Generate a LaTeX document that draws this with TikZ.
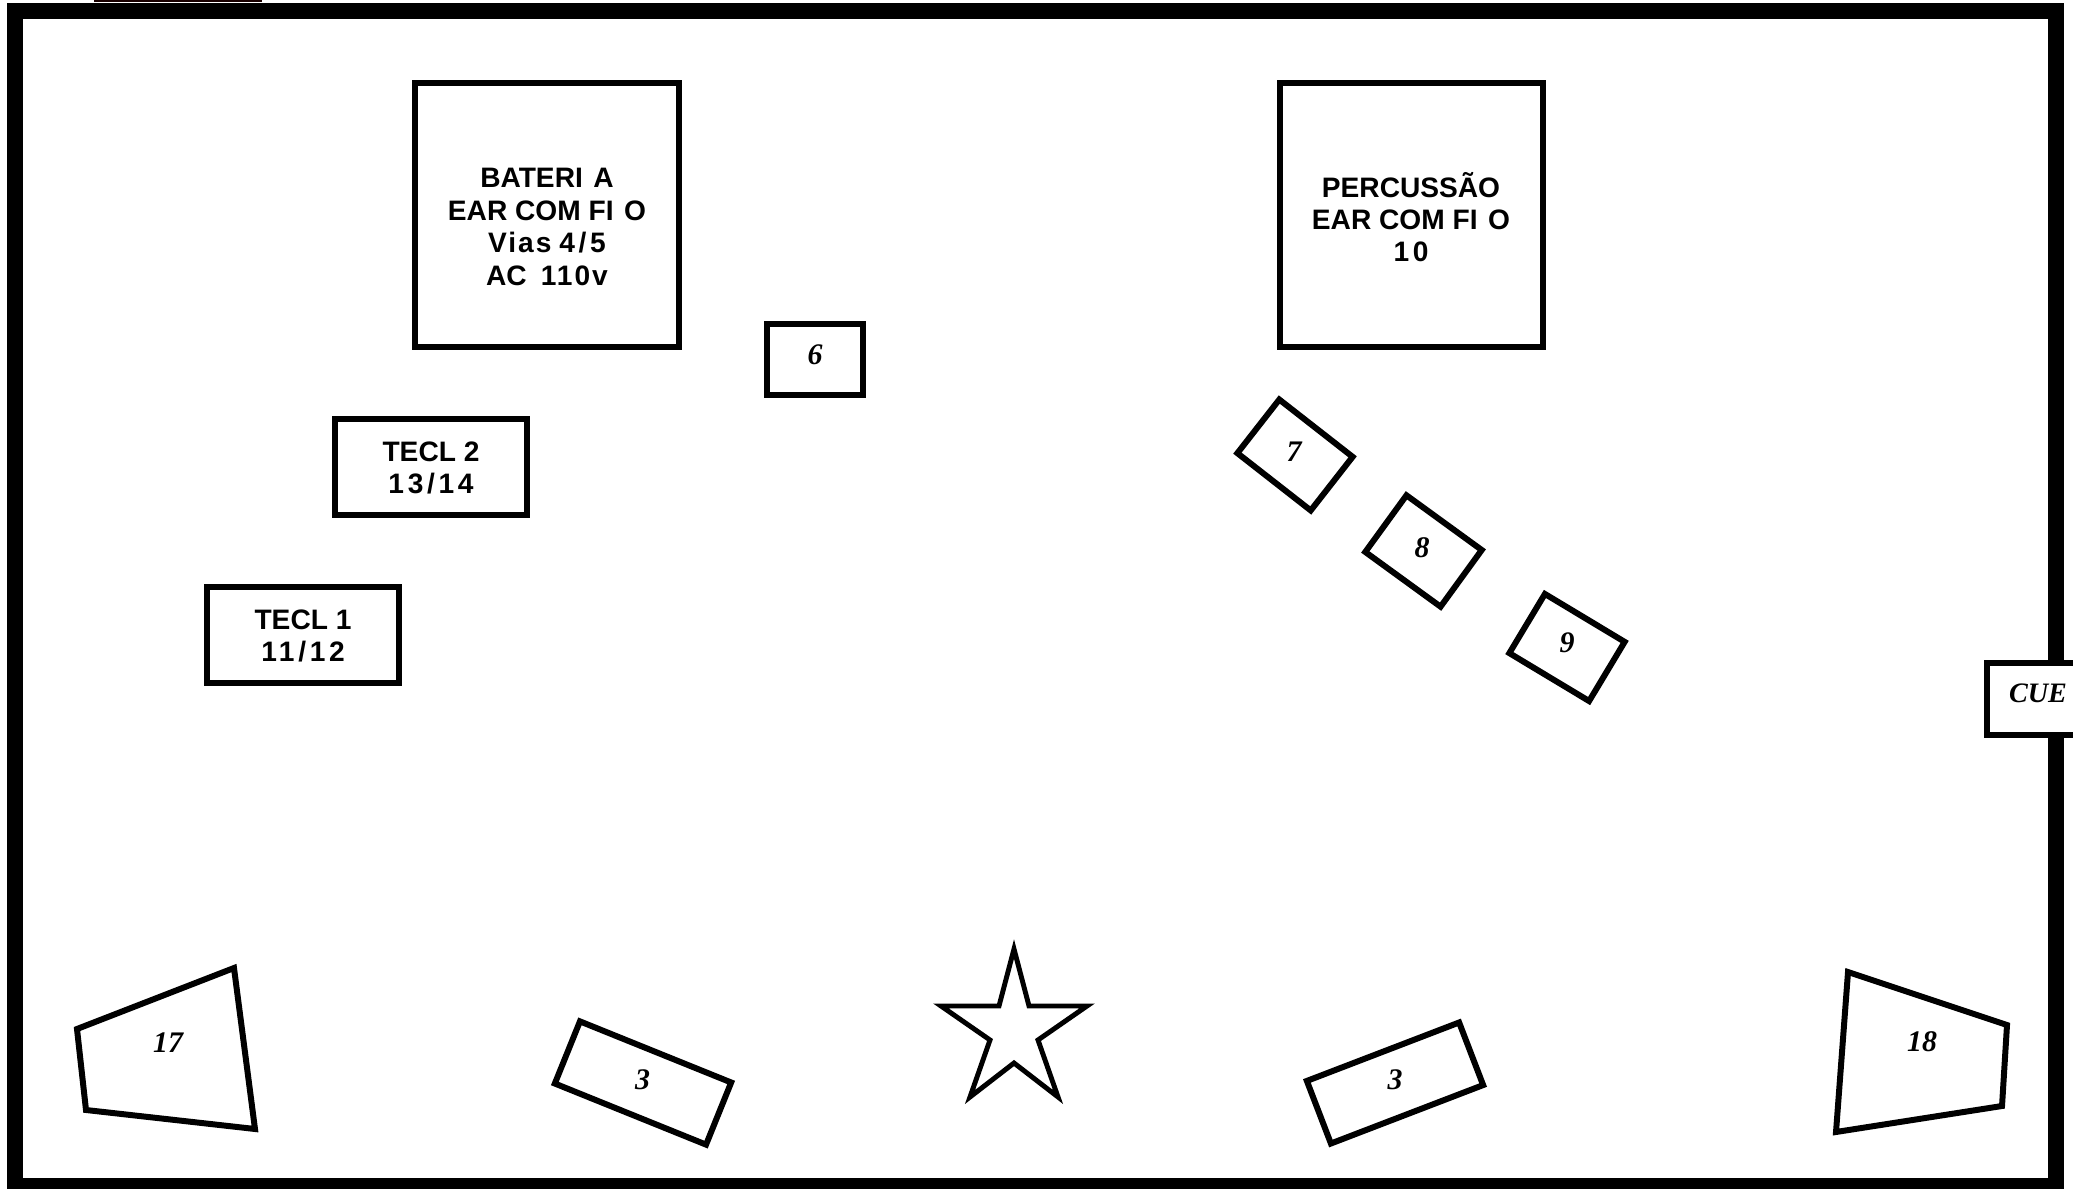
\documentclass[tikz,border=0pt]{standalone}
\usepackage{fontspec}
\setmainfont{Liberation Serif}
\newfontfamily\lsans{Liberation Sans}
\newfontfamily\lsansw[LetterSpace=13]{Liberation Sans}
\newfontfamily\lsansv[LetterSpace=7]{Liberation Sans}
\newcommand\dg[1]{{\lsansw\bfseries #1}}
\newcommand\lw[1]{{\lsansv\bfseries #1}}
\begin{document}
\begin{tikzpicture}[x=0.01cm, y=-0.01cm,
  box/.style={draw, line width=1.7pt, inner sep=0pt},
  poly/.style={draw, line width=1.7pt, line join=miter},
  lab/.style={font=\lsans\bfseries\fontsize{8}{9.2}\selectfont, align=center, inner sep=0pt},
  num/.style={font=\bfseries\itshape\fontsize{8.5}{10}\selectfont, inner sep=0pt}]
\useasboundingbox (0,0) rectangle (2073,1189);
\clip (0,0) rectangle (2073,1189);
% top fragment
\fill[black!90!red] (94,0) rectangle (262,2.5);
% stage border
\draw[line width=4.55pt] (15,11) rectangle (2055.5,1186);
% drums
\node[box, minimum width=2.64cm, minimum height=2.64cm] (bat) at (547,215) {};
\node[lab] (batl) at (547,227) {BATERI\kern3pt A\\EAR COM FI\kern3pt O\\\lw{Vias} \dg{4/5}\\AC\enspace\lw{110v}};
% percussion
\node[box, minimum width=2.63cm, minimum height=2.64cm] (perc) at (1411.5,215) {};
\node[lab] (percl) at (1411,217) {PERCUSSÃO\\EAR COM FI\kern3pt O\\\dg{10}};
% keyboards
\node[box, minimum width=1.92cm, minimum height=0.96cm] (t2) at (431,467) {};
\node[lab] (t2l) at (431,468) {TECL \dg{2}\\\dg{13/14}};
\node[box, minimum width=1.92cm, minimum height=0.96cm] (t1) at (303,635) {};
\node[lab] (t1l) at (303,636) {TECL \dg{1}\\\dg{11/12}};
% monitor 6
\node[box, minimum width=0.96cm, minimum height=0.71cm] (m6) at (815,359.5) {};
\node[num] (m6l) at (815,355) {6};
% monitors 7 8 9
\node[box, rotate=-38, minimum width=0.93cm, minimum height=0.68cm] (m7) at (1295,455) {};
\node[num] (m7l) at (1294,452) {7};
\node[box, rotate=-36, minimum width=0.93cm, minimum height=0.70cm] (m8) at (1423.5,551) {};
\node[num] (m8l) at (1422,548) {8};
\node[box, rotate=-31, minimum width=0.93cm, minimum height=0.69cm] (m9) at (1567,647.5) {};
\node[num] (m9l) at (1567,643) {9};
% CUE
\node[box, fill=white, anchor=west, minimum width=1.2cm, minimum height=0.72cm] (cue) at (1984,699) {};
\node[num, font=\bfseries\itshape\fontsize{8}{10}\selectfont] (cuel) at (2038,693) {CUE};
% side fills 17 / 18
\draw[poly] (77,1029) -- (234,968) -- (255,1129) -- (86,1110) -- cycle;
\node[num] (s17) at (168,1043) {17};
\draw[poly] (1848,972) -- (2007,1025) -- (2002,1106) -- (1836,1132) -- cycle;
\node[num] (s18) at (1922,1042) {18};
% front monitors 3
\node[box, rotate=-22, minimum width=1.63cm, minimum height=0.67cm] (f3a) at (643,1083) {};
\node[num] (f3al) at (642.5,1080) {3};
\node[box, rotate=21, minimum width=1.63cm, minimum height=0.67cm] (f3b) at (1395,1083) {};
\node[num] (f3bl) at (1395,1080) {3};
% star
\draw[line width=1.4pt, line join=miter, miter limit=20]
  (1014,949) -- (1029,1006) -- (1087,1006) -- (1038,1040) -- (1058,1097) -- (1014,1063)
  -- (970,1097) -- (990,1040) -- (941,1006) -- (999,1006) -- cycle;
\end{tikzpicture}
\end{document}
